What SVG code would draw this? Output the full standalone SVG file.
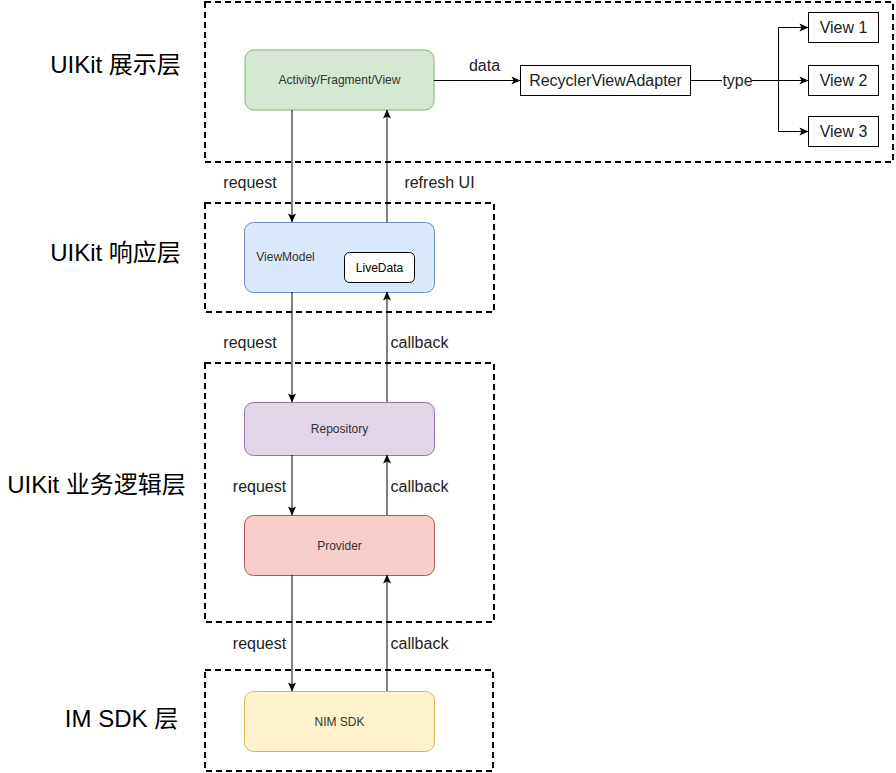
<svg xmlns="http://www.w3.org/2000/svg" width="896" height="773" viewBox="0 0 896 773">
<defs>
<marker id="arr" markerWidth="10" markerHeight="10" viewBox="0 0 10 10" refX="9" refY="5" orient="auto" markerUnits="userSpaceOnUse">
<path d="M0.5,1 L9.5,5 L0.5,9 L2.5,5 Z" fill="#000"/>
</marker>
<style>
.layer{fill:none;stroke:#000;stroke-width:2;stroke-dasharray:6 4;}
.lbl{font-family:"Liberation Sans","Noto Sans CJK SC",sans-serif;font-size:24px;fill:#000;text-anchor:middle;}
.nt{font-family:"Liberation Sans",Arial,sans-serif;font-size:12px;fill:#333;text-anchor:middle;dominant-baseline:central;}
.et{font-family:"Liberation Sans",Arial,sans-serif;font-size:16px;fill:#222;text-anchor:middle;dominant-baseline:central;}
.box{fill:#fff;stroke:#000;stroke-width:1;}
.line{fill:none;stroke:#000;stroke-width:1;}
</style>
</defs>
<rect width="896" height="773" fill="#fff"/>
<g id="layers">
<rect class="layer" x="205" y="2" width="688" height="160"/>
<rect class="layer" x="205" y="203" width="289" height="109"/>
<rect class="layer" x="205" y="363" width="289" height="259"/>
<rect class="layer" x="205" y="670" width="288" height="101"/>
</g>
<g id="layer-labels">
<text class="lbl" x="115.5" y="73">UIKit 展示层</text>
<text class="lbl" x="115.5" y="261">UIKit 响应层</text>
<text class="lbl" x="96.5" y="493">UIKit 业务逻辑层</text>
<text class="lbl" x="121.5" y="727">IM SDK 层</text>
</g>
<g id="node-activity">
<rect x="245" y="50" width="189" height="60" rx="9" fill="#d5e8d4" stroke="#82b366"/>
<text class="nt" x="339.5" y="80">Activity/Fragment/View</text>
</g>
<g id="node-adapter">
<rect class="box" x="520.5" y="65.5" width="170" height="30"/>
<text class="et" x="605.5" y="80.5">RecyclerViewAdapter</text>
</g>
<g id="node-view1">
<rect class="box" x="808.5" y="12.5" width="70" height="30"/>
<text class="et" x="843.5" y="27.5">View 1</text>
</g>
<g id="node-view2">
<rect class="box" x="808.5" y="65.5" width="70" height="30"/>
<text class="et" x="843.5" y="80.5">View 2</text>
</g>
<g id="node-view3">
<rect class="box" x="808.5" y="116.5" width="70" height="30"/>
<text class="et" x="843.5" y="131.5">View 3</text>
</g>
<g id="node-viewmodel">
<rect x="244.5" y="222.5" width="190" height="70" rx="9" fill="#dae8fc" stroke="#6c8ebf"/>
<text class="nt" x="285.5" y="257">ViewModel</text>
</g>
<g id="node-livedata">
<rect x="344.5" y="252.5" width="70" height="30" rx="5" fill="#fff" stroke="#000"/>
<text class="nt" x="379.5" y="267.5" style="fill:#000">LiveData</text>
</g>
<g id="node-repository">
<rect x="244.5" y="402.5" width="190" height="53" rx="9" fill="#e1d5e7" stroke="#9673a6"/>
<text class="nt" x="339.5" y="429">Repository</text>
</g>
<g id="node-provider">
<rect x="244.5" y="515.5" width="190" height="60" rx="9" fill="#f8cecc" stroke="#b85450"/>
<text class="nt" x="339.5" y="545.5">Provider</text>
</g>
<g id="node-nimsdk">
<rect x="244.5" y="691.5" width="190" height="60" rx="9" fill="#fff2cc" stroke="#d6b656"/>
<text class="nt" x="339.5" y="721.5">NIM SDK</text>
</g>
<g id="connectors">
<line class="line" x1="434" y1="80.5" x2="520" y2="80.5" marker-end="url(#arr)"/>
<line class="line" x1="690.5" y1="80.5" x2="808" y2="80.5" marker-end="url(#arr)"/>
<path class="line" d="M778.5,80.5 V27.5 H808" marker-end="url(#arr)"/>
<path class="line" d="M778.5,80.5 V131.5 H808" marker-end="url(#arr)"/>
<line class="line" x1="292" y1="110" x2="292" y2="222" marker-end="url(#arr)"/>
<line class="line" x1="387" y1="222" x2="387" y2="110" marker-end="url(#arr)"/>
<line class="line" x1="292" y1="292" x2="292" y2="402" marker-end="url(#arr)"/>
<line class="line" x1="387" y1="402" x2="387" y2="292" marker-end="url(#arr)"/>
<line class="line" x1="292" y1="455" x2="292" y2="515" marker-end="url(#arr)"/>
<line class="line" x1="387" y1="515" x2="387" y2="455" marker-end="url(#arr)"/>
<line class="line" x1="292" y1="575" x2="292" y2="691" marker-end="url(#arr)"/>
<line class="line" x1="387" y1="691" x2="387" y2="575" marker-end="url(#arr)"/>
</g>
<g id="connector-labels">
<text class="et" x="484.5" y="65.5">data</text>
<rect x="722" y="72" width="30" height="17" fill="#fff"/>
<text class="et" x="737.5" y="80.5">type</text>
<text class="et" x="250" y="182.5">request</text>
<text class="et" x="439.5" y="182.5">refresh UI</text>
<text class="et" x="250" y="342">request</text>
<text class="et" x="419.5" y="342">callback</text>
<text class="et" x="259.5" y="486">request</text>
<text class="et" x="419.5" y="486.5">callback</text>
<text class="et" x="259.5" y="643">request</text>
<text class="et" x="419.5" y="643">callback</text>
</g>
</svg>
